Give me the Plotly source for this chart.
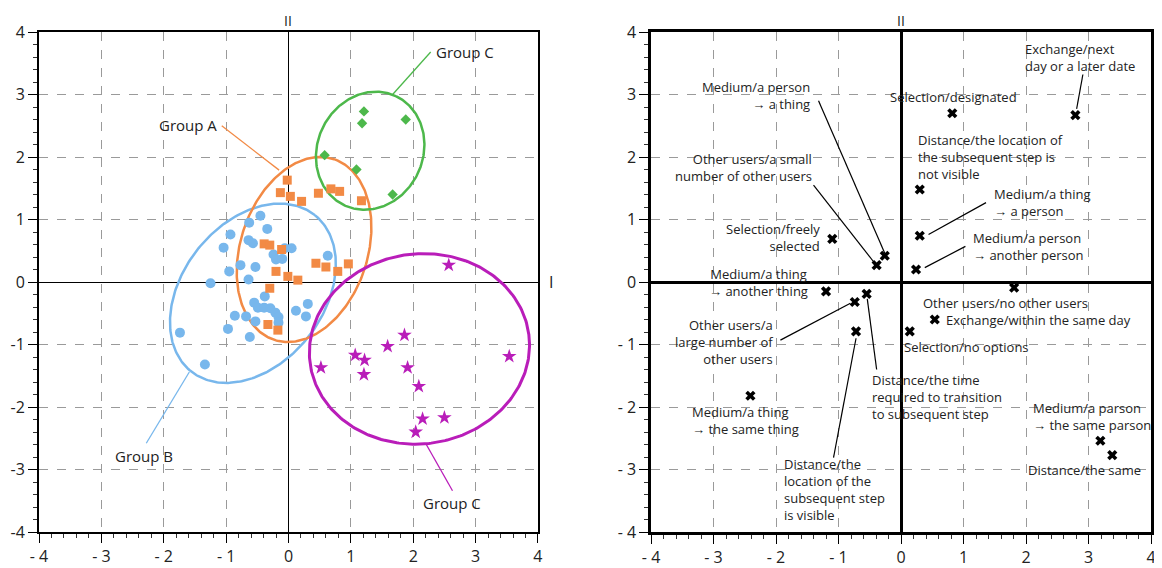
import numpy as np
import plotly.graph_objects as go

# ---------------- data ----------------
groupA_x = [-0.02, -0.13, 0.03, 0.21, 0.48, 0.68, 0.82, 1.17, -0.39, -0.30, -0.11,
            0.44, 0.60, 0.79, 0.96, -0.20, -0.01, 0.15, -0.30, -0.33, -0.17]
groupA_y = [1.63, 1.43, 1.37, 1.29, 1.42, 1.49, 1.45, 1.30, 0.61, 0.59, 0.52,
            0.30, 0.24, 0.17, 0.29, 0.17, 0.09, 0.03, -0.10, -0.68, -0.77]

groupB_x = [-0.45, -0.63, -0.34, -0.93, -1.04, -0.64, -0.57, -0.06, 0.05, -0.24, -0.20,
            -0.10, 0.63, -0.77, -0.53, -0.95, -0.64, -1.25, -0.38, -0.55, -0.49, -0.39,
            -0.29, -0.21, -0.16, -0.16, -0.86, -0.68, -0.53, 0.12, 0.31, 0.28, -0.97,
            -0.62, -1.74, -1.34]
groupB_y = [1.06, 0.95, 0.85, 0.76, 0.55, 0.67, 0.62, 0.54, 0.54, 0.44, 0.36,
            0.37, 0.42, 0.27, 0.24, 0.17, 0.04, -0.02, -0.23, -0.33, -0.41, -0.41,
            -0.42, -0.49, -0.56, -0.65, -0.54, -0.55, -0.63, -0.46, -0.35, -0.55, -0.75,
            -0.88, -0.81, -1.32]

groupC_green_x = [1.21, 1.18, 1.88, 0.58, 1.09, 1.67]
groupC_green_y = [2.73, 2.54, 2.60, 2.03, 1.80, 1.40]

groupC_pink_x = [2.57, 1.86, 1.59, 1.07, 1.22, 0.52, 1.91, 1.21, 3.54, 2.09, 2.15, 2.50, 2.04]
groupC_pink_y = [0.27, -0.85, -1.03, -1.17, -1.25, -1.37, -1.37, -1.48, -1.19, -1.67, -2.19, -2.17, -2.40]

item_labels = [
    "Selection/designated",
    "Exchange/next<br>day or a later date",
    "Distance/the location of<br>the subsequent step is<br>not visible",
    "Medium/a thing<br>→ a person",
    "Medium/a person<br>→ another person",
    "Selection/freely<br>selected",
    "Medium/a person<br>→ a thing",
    "Other users/a small<br>number of other users",
    "Medium/a thing<br>→ another thing",
    "Other users/a<br>large number of<br>other users",
    "Distance/the time<br>required to transition<br>to subsequent step",
    "Distance/the<br>location of the<br>subsequent step<br>is visible",
    "Other users/no other users",
    "Exchange/within the same day",
    "Selection/no options",
    "Medium/a thing<br>→ the same thing",
    "Medium/a parson<br>→ the same parson",
    "Distance/the same",
]
item_x = [0.82, 2.79, 0.30, 0.30, 0.24, -1.10, -0.26, -0.39, -1.20, -0.74, -0.55, -0.72,
          1.81, 0.54, 0.14, -2.41, 3.19, 3.38]
item_y = [2.70, 2.67, 1.48, 0.74, 0.20, 0.69, 0.42, 0.27, -0.15, -0.32, -0.19, -0.79,
          -0.09, -0.60, -0.79, -1.82, -2.54, -2.77]

tick_vals = [-4, -3, -2, -1, 0, 1, 2, 3, 4]
tick_text_spaced = ["- 4", "- 3", "- 2", "- 1", "0", "1", "2", "3", "4"]
tick_text_plain = ["-4", "-3", "-2", "-1", "0", "1", "2", "3", "4"]

# ---------------- layout helpers (positions/styles) ----------------
FONT = "Open Sans"
C_BLUE = "#78b7ec"
C_ORANGE = "#f28a45"
C_GREEN = "#4db84b"
C_PINK = "#b91db9"

# ellipse: (cx, cy, a, b, angle_deg, color, width)
ellipses = [
    (-0.57, -0.18, 1.596, 1.131, 51.6, C_BLUE, 2.5),
    (0.25, 0.52, 1.523, 1.019, 71.6, C_ORANGE, 2.5),
    (1.31, 2.10, 0.966, 0.846, 64.3, C_GREEN, 2.5),
    (2.10, -1.07, 1.769, 1.52, 7.5, C_PINK, 3),
]

# label placements for the right panel: (x, y, xanchor, align)
item_label_pos = [
    (0.84, 2.96, "center", "center"),
    (1.95, 3.59, "left", "left"),
    (0.24, 2.00, "left", "left"),
    (1.45, 1.27, "left", "left"),
    (1.12, 0.57, "left", "left"),
    (-1.27, 0.71, "right", "right"),
    (-1.43, 2.99, "right", "right"),
    (-1.39, 1.84, "right", "right"),
    (-2.28, -0.01, "center", "center"),
    (-2.02, -0.96, "right", "right"),
    (-0.50, -1.84, "left", "left"),
    (-1.91, -3.32, "left", "left"),
    (1.67, -0.33, "center", "center"),
    (0.68, -0.61, "left", "left"),
    (0.02, -1.04, "left", "left"),
    (-3.37, -2.22, "left", "left"),
    (2.08, -2.15, "left", "left"),
    (2.93, -3.00, "center", "center"),
]

right_leaders = [
    (-1.32, 2.90, -0.26, 0.46),
    (2.91, 3.32, 2.81, 2.77),
    (-1.40, 1.55, -0.42, 0.30),
    (1.36, 1.27, 0.44, 0.76),
    (1.03, 0.57, 0.38, 0.23),
    (-1.93, -0.93, -0.81, -0.34),
    (-0.39, -1.40, -0.54, -0.27),
    (-1.08, -2.81, -0.72, -0.90),
]

# left panel group labels: (text, x, y, xanchor, leader(x0,y0,x1,y1), color)
group_labels = [
    ("Group A", -1.12, 2.52, "right", (-1.07, 2.50, -0.15, 1.79), C_ORANGE),
    ("Group B", -2.31, -2.78, "center", (-2.28, -2.58, -1.59, -1.44), C_BLUE),
    ("Group C", 2.34, 3.68, "left", (1.67, 3.00, 2.28, 3.68), C_GREEN),
    ("Group C", 2.62, -3.53, "center", (2.21, -2.60, 2.63, -3.34), C_PINK),
]

fig = go.Figure()

# ellipses
t = np.linspace(0, 2 * np.pi, 300)
for cx, cy, a, b, ang, col, w in ellipses:
    th = np.deg2rad(ang)
    ex = cx + a * np.cos(t) * np.cos(th) - b * np.sin(t) * np.sin(th)
    ey = cy + a * np.cos(t) * np.sin(th) + b * np.sin(t) * np.cos(th)
    fig.add_trace(go.Scatter(x=ex, y=ey, mode="lines", line=dict(color=col, width=w),
                             hoverinfo="skip", showlegend=False, xaxis="x", yaxis="y"))

fig.add_trace(go.Scatter(x=groupB_x, y=groupB_y, mode="markers", name="Group B",
                         marker=dict(symbol="circle", size=10, color=C_BLUE),
                         showlegend=False, xaxis="x", yaxis="y"))
fig.add_trace(go.Scatter(x=groupA_x, y=groupA_y, mode="markers", name="Group A",
                         marker=dict(symbol="square", size=9, color=C_ORANGE),
                         showlegend=False, xaxis="x", yaxis="y"))
fig.add_trace(go.Scatter(x=groupC_green_x, y=groupC_green_y, mode="markers", name="Group C",
                         marker=dict(symbol="diamond", size=8, color=C_GREEN),
                         showlegend=False, xaxis="x", yaxis="y"))
fig.add_trace(go.Scatter(x=groupC_pink_x, y=groupC_pink_y, mode="markers", name="Group C",
                         marker=dict(symbol="star", size=11, color=C_PINK),
                         showlegend=False, xaxis="x", yaxis="y"))

fig.add_trace(go.Scatter(x=item_x, y=item_y, mode="markers", text=item_labels,
                         marker=dict(symbol="x", size=9, color="black"),
                         showlegend=False, xaxis="x2", yaxis="y2"))

annotations = []
shapes = []
for text, x, y, xa, (x0, y0, x1, y1), col in group_labels:
    annotations.append(dict(x=x, y=y, xref="x", yref="y", text=text, showarrow=False,
                            xanchor=xa, yanchor="middle",
                            font=dict(family=FONT, size=15, color="#222")))
    shapes.append(dict(type="line", xref="x", yref="y", x0=x0, y0=y0, x1=x1, y1=y1,
                       line=dict(color=col, width=1.3)))

for lab, (x, y, xa, al) in zip(item_labels, item_label_pos):
    annotations.append(dict(x=x, y=y, xref="x2", yref="y2", text=lab, showarrow=False,
                            xanchor=xa, yanchor="middle", align=al,
                            font=dict(family=FONT, size=13, color="#222")))
for x0, y0, x1, y1 in right_leaders:
    shapes.append(dict(type="line", xref="x2", yref="y2", x0=x0, y0=y0, x1=x1, y1=y1,
                       line=dict(color="black", width=1.2)))

# axis titles II / I
for xr, yr in (("x", "y"), ("x2", "y2")):
    annotations.append(dict(x=0, y=4, xref=xr, yref=yr, text="II", showarrow=False,
                            yanchor="middle", yshift=12,
                            font=dict(family=FONT, size=14, color="#222")))
annotations.append(dict(x=4, y=0, xref="x", yref="y", text="I", showarrow=False,
                        xanchor="left", xshift=9, font=dict(family=FONT, size=16, color="#222")))


def axis(domain, anchor, ticktext, lw, zw):
    return dict(domain=domain, anchor=anchor, range=[-4, 4], tickvals=tick_vals,
                ticktext=ticktext, showgrid=True, gridcolor="#9a9a9a", griddash="dash",
                gridwidth=1, zeroline=True, zerolinecolor="black", zerolinewidth=zw,
                showline=True, mirror=True, linecolor="black", linewidth=lw,
                ticks="outside", ticklen=9, tickwidth=1.3, tickcolor="black",
                minor=dict(dtick=0.2, ticks="outside", ticklen=4, tickwidth=1,
                           tickcolor="#333", showgrid=False),
                tickfont=dict(family=FONT, size=16, color="#222"), fixedrange=True,
                automargin=False)


# the page body adds an 8px offset, so the figure is 8px smaller than the window
fig.update_layout(
    template="none",
    width=1154, height=560,
    margin=dict(l=31, r=11, t=24, b=36, autoexpand=False),
    paper_bgcolor="white", plot_bgcolor="white",
    showlegend=False,
    xaxis=axis([0, 0.4487], "y", tick_text_spaced, 2, 1.3),
    yaxis=axis([0, 1], "x", tick_text_plain, 2, 1.3),
    xaxis2=axis([0.5504, 1.0], "y2", tick_text_spaced, 2.5, 2.5),
    yaxis2=axis([0, 1], "x2", tick_text_spaced, 2.5, 2.5),
    annotations=annotations,
    shapes=shapes,
)

fig.write_html("out.html")
